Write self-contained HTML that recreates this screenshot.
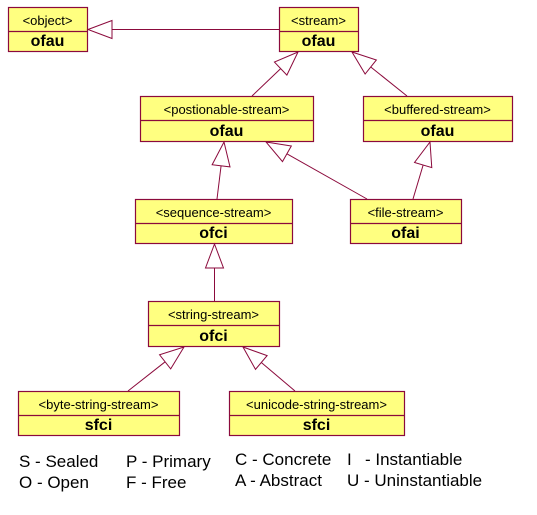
<!DOCTYPE html>
<html><head><style>
html,body{margin:0;padding:0;background:#fff;width:537px;height:515px;overflow:hidden}
svg{display:block}
</style></head><body>
<svg id="s" width="537" height="515" xmlns="http://www.w3.org/2000/svg" font-family="Liberation Sans, Arial, sans-serif">
<g id="boxes"></g>
<g id="lines" stroke="#8b0a3c" stroke-width="1" fill="none"></g>
<g font-size="17" fill="#000">
<text x="19" y="467">S - Sealed</text>
<text x="19" y="488">O - Open</text>
<text x="126" y="467">P - Primary</text>
<text x="126" y="488">F - Free</text>
<text x="235" y="465">C - Concrete</text>
<text x="235" y="486">A - Abstract</text>
<text x="347" y="465">I</text>
<text x="365" y="465">- Instantiable</text>
<text x="347" y="486">U - Uninstantiable</text>
</g>
</svg>
<script>
var NS="http://www.w3.org/2000/svg";
var B=document.getElementById('boxes'),L=document.getElementById('lines');
function el(p,t,a,txt){var e=document.createElementNS(NS,t);for(var k in a)e.setAttribute(k,a[k]);if(txt)e.textContent=txt;p.appendChild(e);return e;}
function box(x1,y1,x2,y2,d,n,v){
 el(B,'rect',{x:x1+.5,y:y1+.5,width:x2-x1,height:y2-y1,fill:'#ffff80',stroke:'#8b0a3c','stroke-width':1.2});
 el(B,'line',{x1:x1,y1:d+.5,x2:x2,y2:d+.5,stroke:'#8b0a3c','stroke-width':1.2});
 var cx=(x1+x2)/2;
 el(B,'text',{x:cx,y:d-6,'text-anchor':'middle','font-size':13},n);
 el(B,'text',{x:cx,y:y2-5,'text-anchor':'middle','font-size':16,'font-weight':'bold'},v);
}
box(8,7,87,51,31,'<object>','ofau');
box(279,7,358,51,31,'<stream>','ofau');
box(140,96,313,141,120,'<postionable-stream>','ofau');
box(363,96,512,141,120,'<buffered-stream>','ofau');
box(135,199,292,243,223,'<sequence-stream>','ofci');
box(350,199,461,243,223,'<file-stream>','ofai');
box(148,301,279,346,325,'<string-stream>','ofci');
box(18,391,179,435,415,'<byte-string-stream>','sfci');
box(229,391,404,435,415,'<unicode-string-stream>','sfci');
function arr(fx,fy,tx,ty){
 var dx=tx-fx,dy=ty-fy,len=Math.sqrt(dx*dx+dy*dy),ux=dx/len,uy=dy/len;
 var bl=24,hw=9,bx=tx-ux*bl,by=ty-uy*bl;
 el(L,'line',{x1:fx,y1:fy,x2:bx,y2:by});
 el(L,'polygon',{points:tx+','+ty+' '+(bx-uy*hw)+','+(by+ux*hw)+' '+(bx+uy*hw)+','+(by-ux*hw),fill:'#fff'});
}
arr(279,29.5,88,29.5);
arr(252,96,298,52);
arr(407,96,352,52);
arr(217,199,224,142);
arr(367,199,266,142);
arr(413,199,430,142);
arr(214.5,301,214.5,244);
arr(128,391,184,347);
arr(295,391,243,347);
</script>
</body></html>
